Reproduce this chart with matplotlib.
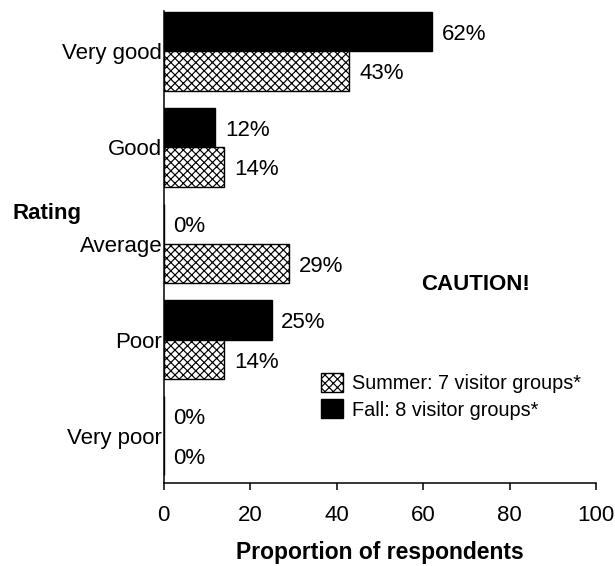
import matplotlib
matplotlib.use("Agg")
import matplotlib.pyplot as plt
import numpy as np

plt.rcParams['font.family'] = ['Liberation Sans', 'DejaVu Sans']
plt.rcParams['hatch.linewidth'] = 0.85

categories = ["Very poor", "Poor", "Average", "Good", "Very good"]
summer = [0, 14, 29, 14, 43]
fall = [0, 25, 0, 12, 62]
summer_label = "Summer: 7 visitor groups*"
fall_label = "Fall: 8 visitor groups*"
x_ticks = [0, 20, 40, 60, 80, 100]

fig = plt.figure(figsize=(6.15, 5.66), dpi=100)
ax = fig.add_axes([0.2659, 0.1466, 0.9691 - 0.2659, 0.9806 - 0.1466])

y = np.arange(len(categories))
h = 0.41

ax.barh(y + h / 2, fall, height=h, color="black", edgecolor="black",
        linewidth=1.0, label=fall_label)
ax.barh(y - h / 2, summer, height=h, color="white", edgecolor="black",
        linewidth=1.0, hatch="xxxx", label=summer_label)

for yi, v in zip(y, fall):
    ax.annotate(f"{v}%", xy=(v, yi + h / 2), xytext=(7, -2),
                textcoords="offset points", va="center", ha="left", fontsize=16)
for yi, v in zip(y, summer):
    ax.annotate(f"{v}%", xy=(v, yi - h / 2), xytext=(7, -2),
                textcoords="offset points", va="center", ha="left", fontsize=16)

ax.set_xlim(0, 100)
ax.set_ylim(-0.49, 4.42)
ax.set_xticks(x_ticks)
ax.set_xticklabels([str(t) for t in x_ticks], fontsize=16)
ax.set_yticks(y)
ax.set_yticklabels(categories, fontsize=16)
ax.tick_params(axis="y", length=0, pad=1)
ax.tick_params(axis="x", length=5, width=1.1, pad=10.5, direction="out")

for s in ("top", "right"):
    ax.spines[s].set_visible(False)
for s in ("left", "bottom"):
    ax.spines[s].set_linewidth(1.1)

ax.set_xlabel("Proportion of respondents", fontsize=16.5, fontweight="bold",
              labelpad=11)

fig.text(47 / 615, 1 - 213 / 566, "Rating", fontsize=16, fontweight="bold",
         ha="center", va="center")
fig.text(476 / 615, 1 - 285 / 566, "CAUTION!", fontsize=16,
         fontweight="bold", ha="center", va="center")

handles, labels = ax.get_legend_handles_labels()
ax.legend(handles[::-1], labels[::-1], loc="upper left",
          bbox_to_anchor=(321 / 615, 1 - 373 / 566),
          bbox_transform=fig.transFigure, frameon=False, fontsize=14.3,
          handlelength=1.1, handleheight=1.1, handletextpad=0.45,
          labelspacing=0.3, borderpad=0, borderaxespad=0)

fig.savefig("out.png", dpi=100)
